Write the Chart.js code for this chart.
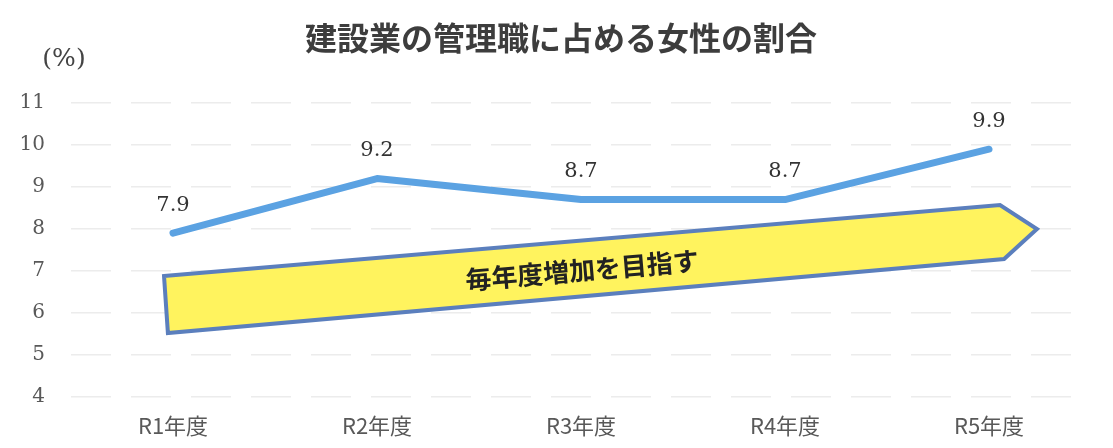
<!DOCTYPE html>
<html lang="ja">
<head>
<meta charset="utf-8">
<title>建設業の管理職に占める女性の割合</title>
<script src="https://cdn.jsdelivr.net/npm/chart.js@4/dist/chart.umd.min.js"></script>
<style>
  html, body { margin: 0; padding: 0; background: #fff; }
  #wrap { width: 1113px; height: 448px; position: relative; }
</style>
</head>
<body>
<div id="wrap"><canvas id="chart"></canvas></div>
<script>
// 年度ごとの値 (%)
const categories = ['R1年度', 'R2年度', 'R3年度', 'R4年度', 'R5年度'];
const ratio = [7.9, 9.2, 8.7, 8.7, 9.9];
const yMin = 4;
const yMax = 11;
const chartTitle = '建設業の管理職に占める女性の割合';
const unitLabel = '(%)';

// 矢印（カテゴリ番号, 値）
const arrowX = [-0.044, 4.054, 4.235, 4.074, -0.025];
const arrowY = [6.88, 8.571, 8.0, 7.286, 5.524];
const arrowText = '毎年度増加を目指す';
const arrowTextX = 2.005;
const arrowTextY = 7.02;

const jpFont = '"Noto Sans CJK JP", "Noto Sans", sans-serif';
const numFont = '"DejaVu Serif", "Liberation Serif", serif';

const decorations = {
    id: 'decorations',
    beforeDatasetsDraw(chart) {
        const ctx = chart.ctx;
        const xs = chart.scales.x;
        const ys = chart.scales.y;
        const pts = arrowX.map((x, i) => [xs.getPixelForValue(x), ys.getPixelForValue(arrowY[i])]);
        ctx.save();
        ctx.beginPath();
        pts.forEach((p, i) => i === 0 ? ctx.moveTo(p[0], p[1]) : ctx.lineTo(p[0], p[1]));
        ctx.closePath();
        ctx.fillStyle = '#fff35e';
        ctx.fill();
        ctx.lineWidth = 4;
        ctx.lineJoin = 'miter';
        ctx.strokeStyle = '#5b7fbd';
        ctx.stroke();

        // 矢印の傾きに合わせて文字を回転
        const angle = Math.atan2(pts[1][1] - pts[0][1], pts[1][0] - pts[0][0]);
        ctx.translate(xs.getPixelForValue(arrowTextX), ys.getPixelForValue(arrowTextY));
        ctx.rotate(angle);
        ctx.font = 'bold 26px ' + jpFont;
        ctx.fillStyle = '#222';
        ctx.textAlign = 'center';
        ctx.textBaseline = 'middle';
        ctx.fillText(arrowText, 0, 0);
        ctx.restore();
    },
    afterDatasetsDraw(chart) {
        const ctx = chart.ctx;
        const meta = chart.getDatasetMeta(0);
        ctx.save();
        ctx.font = '21px ' + numFont;
        ctx.fillStyle = '#333';
        ctx.textAlign = 'center';
        ctx.textBaseline = 'middle';
        meta.data.forEach((pt, i) => {
            ctx.fillText(ratio[i].toFixed(1), pt.x, pt.y - 28);
        });
        // 単位
        ctx.font = '25px ' + numFont;
        ctx.fillStyle = '#444';
        ctx.fillText(unitLabel, 64, 59);
        // タイトル
        ctx.font = 'bold 32px ' + jpFont;
        ctx.fillStyle = '#3d3d3d';
        ctx.fillText(chartTitle, 561, 38);
        ctx.restore();
    }
};

new Chart(document.getElementById('chart'), {
    type: 'line',
    data: {
        labels: categories,
        datasets: [{
            data: ratio,
            borderColor: '#5ba2e2',
            borderWidth: 7,
            borderCapStyle: 'round',
            borderJoinStyle: 'round',
            pointRadius: 0,
            pointHoverRadius: 0,
            tension: 0,
            fill: false
        }]
    },
    options: {
        responsive: true,
        maintainAspectRatio: false,
        animation: false,
        layout: { padding: { left: 0, right: 22, top: 103, bottom: 0 } },
        plugins: {
            legend: { display: false },
            tooltip: { enabled: false },
            title: { display: false }
        },
        scales: {
            x: {
                offset: true,
                grid: { display: false, drawTicks: false },
                border: { display: false },
                ticks: {
                    color: '#595959',
                    padding: 15,
                    font: { family: jpFont, size: 22 }
                },
                afterFit(scale) { scale.height = 51; }
            },
            y: {
                min: yMin,
                max: yMax,
                grid: {
                    color: '#ececec',
                    lineWidth: 1.5,
                    drawTicks: false
                },
                border: { display: false, dash: [40, 20] },
                ticks: {
                    stepSize: 1,
                    color: '#595959',
                    padding: 26,
                    font: { family: numFont, size: 20 }
                },
                afterFit(scale) { scale.width = 71; }
            }
        }
    },
    plugins: [decorations]
});
</script>
</body>
</html>
